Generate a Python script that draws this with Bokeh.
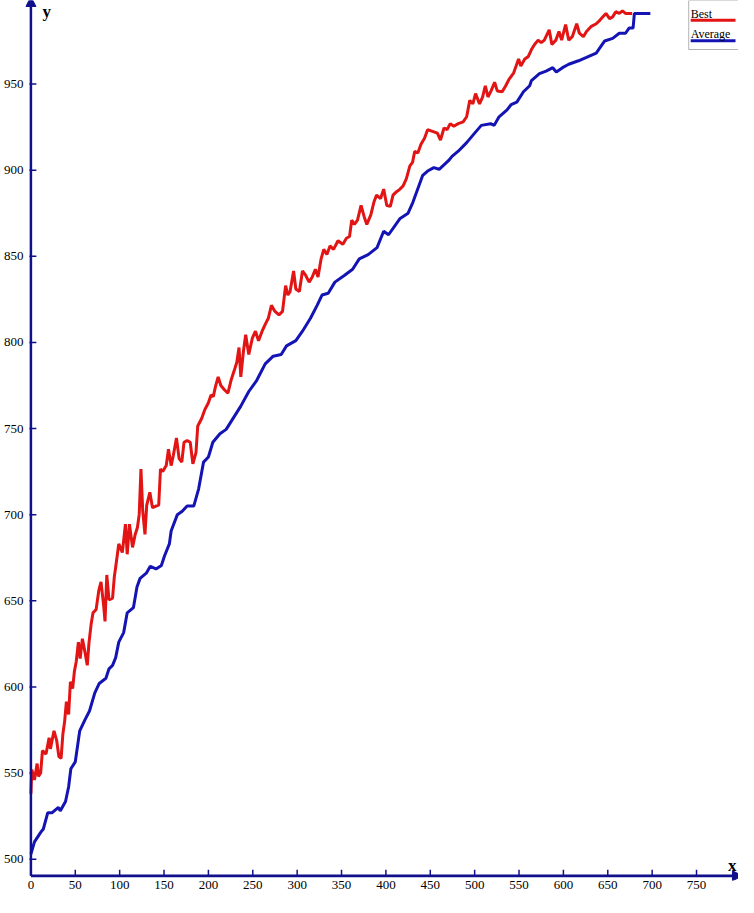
from bokeh.plotting import figure
from bokeh.models import Range1d, FixedTicker, Arrow, NormalHead, Label, BoxAnnotation
from bokeh.embed import file_html
from bokeh.resources import INLINE

# ---- data ----
best_x = [0, 1, 4, 7, 8.5, 11, 13, 17, 20.5, 22, 26, 29, 31.5, 34, 36, 38, 40, 42.5, 44.5, 47,
          49, 51, 53.5, 55.5, 58, 61, 63.5, 65.5, 68, 70, 73.5, 76.5, 79, 82, 83.5, 85.5, 88, 92,
          94, 95.5, 99, 103, 106.5, 108.5, 111, 114.5, 117.5, 120, 122, 124, 126, 128.5, 130.5,
          134, 137, 141, 144, 146, 148.5, 152.5, 155, 158, 160.5, 164, 167, 170, 172.5, 176,
          179.5, 182.5, 186, 188, 192.5, 196, 200, 203, 205.5, 208, 211, 214, 218, 222, 225.5,
          229, 232, 234.5, 236.5, 239.5, 242, 245.5, 249.5, 253, 256.5, 260.5, 264, 267.5, 271,
          275, 279.5, 283.5, 287, 289.5, 292, 296, 298.5, 302.5, 306, 309.5, 313.5, 317, 320.5,
          323.5, 327, 330, 333.5, 337, 341, 346, 351.5, 355.5, 359, 361.5, 364.5, 368, 372,
          375.5, 378.5, 383, 386.5, 389.5, 394, 397.5, 401, 405, 408, 412, 416, 419.5, 423, 427,
          430, 432.5, 436, 439.5, 443.5, 447, 452.5, 458, 461.5, 465.5, 469, 472.5, 476.5, 481.5,
          487, 491, 494.5, 498, 501, 505.5, 509, 512, 515, 518.5, 522.5, 525.5, 531, 535, 538.5,
          544, 546, 549.5, 552, 556.5, 560.5, 564, 567.5, 571.5, 575, 578.5, 584, 587, 591.5,
          595, 598, 602.5, 606, 610, 615, 618, 622.5, 626, 631.5, 637, 641, 644.5, 648, 652,
          655.5, 659, 663, 666.5, 670, 677.5]
best_y = [538, 552, 546, 555.5, 548, 550, 563, 561, 570.5, 564, 574.5, 569, 559.5, 558.5, 572.5,
          580, 591.5, 584, 603, 599, 609, 614.5, 626, 616.5, 628, 620, 612.5, 626, 637, 643, 645,
          656, 661, 647, 638, 665, 650.5, 651.5, 664, 669.5, 683, 678, 694.5, 677, 694.5, 681,
          688.5, 692.5, 700, 726.5, 702, 688.5, 705.5, 713, 704, 705, 705.5, 726.5, 725, 728.5,
          738, 728.5, 734.5, 744.5, 732.5, 730.5, 742, 743, 742, 729.5, 736, 751.5, 756, 761,
          765, 769.5, 768.5, 774.5, 780, 775, 772.5, 770.5, 778, 783.5, 788.5, 797, 780, 795,
          804.5, 793, 802.5, 806.5, 801, 806.5, 810.5, 814, 821.5, 818, 816, 818, 833, 827.5,
          829.5, 841.5, 831, 829.5, 841.5, 839, 835, 838, 842.5, 838, 848.5, 854, 851, 856, 854,
          859, 857, 860.5, 861.5, 871, 868.5, 871, 879.5, 873, 868.5, 874, 881.5, 885.5, 883.5,
          889, 879.5, 879, 885.5, 887.5, 889, 891, 895, 902.5, 904.5, 911, 910, 915, 918.5,
          923.5, 922.5, 921.5, 917.5, 924.5, 923.5, 927, 925.5, 927, 928, 931, 940.5, 938.5,
          944.5, 938.5, 942.5, 949, 942.5, 946, 951, 946, 945.5, 949, 952.5, 956.5, 959.5,
          964.5, 960.5, 964.5, 966, 970, 973, 975.5, 974, 975.5, 981.5, 973, 975.5, 980.5,
          975.5, 984.5, 975.5, 977.5, 985, 979.5, 977.5, 980.5, 983.5, 985, 987, 989, 991, 988,
          989, 992, 991, 992.5, 991, 991]

avg_x = [0, 4, 11, 14, 19, 24, 31, 33, 39, 42.5, 45, 50, 55, 61, 66, 72, 77, 84.5, 88, 92, 95.5,
         99, 101, 104.5, 108.5, 115.5, 119.5, 123, 130, 134.5, 141, 147, 150.5, 156, 158, 165,
         170.5, 176, 183.5, 189, 194.5, 200, 205, 213, 220, 225.5, 236.5, 245.5, 254.5, 264,
         273, 282, 288, 298.5, 306, 315, 322.5, 328, 335, 342.5, 353.5, 362.5, 370, 380, 390,
         397.5, 403, 416, 425, 430.5, 441.5, 447, 454, 460, 470.5, 474.5, 481.5, 491, 500,
         507.5, 518, 522, 527.5, 536.5, 541, 547.5, 555, 562, 564, 573, 580.5, 588, 592, 599,
         606, 617, 626, 637, 646.5, 655.5, 663, 670, 674, 678.5, 680, 698]
avg_y = [503, 510, 515.5, 517.5, 527, 527, 530, 528, 533.5, 542, 552.5, 556.5, 574.5, 581, 586,
         596.5, 602, 605, 610.5, 612.5, 617, 626, 628, 631.5, 643, 646, 658, 663, 666, 670,
         668.5, 670.5, 676, 683, 690.5, 700, 702, 705, 705, 715, 730.5, 733.5, 742, 747, 749.5,
         754, 763, 771.5, 778, 787.5, 792, 793, 798, 801, 806.5, 814, 821.5, 827.5, 828.5, 835,
         839, 842.5, 848.5, 851, 855, 864.5, 862.5, 872, 875, 881.5, 897, 899.5, 901.5, 900.5,
         905.5, 908, 911, 916, 921.5, 926, 927, 926, 931, 935, 938, 939.5, 945.5, 949, 952, 956,
         957.5, 959.5, 957, 959.5, 961.5, 963.5, 965.5, 968, 975, 976.5, 979.5, 979.5, 982.5,
         982.5, 991, 991]

x_ticks = list(range(0, 800, 50))
y_ticks = list(range(500, 1000, 50))
series_names = ["Best", "Average"]

# ---- styling / layout ----
NAVY = "#10108c"
RED = "#e21414"
BLUE = "#1414b4"
FONT = "Liberation Serif"

W, H = 738, 897
BL, BB = 22, 17                 # left / bottom panel for tick labels
FW, FH = W - BL, H - BB         # frame size in px
X0, X1 = -6.1, 797.3            # data range across the frame
Y0, Y1 = 487.6, 998.5
XAX, YAX = 0.0, 490.3           # where the drawn axis lines sit
sx = FW / (X1 - X0)
sy = FH / (Y1 - Y0)


def xd(fx):
    """figure pixel x -> data x"""
    return X0 + (fx - BL) / sx


def yd(fy):
    """figure pixel y (from top) -> data y"""
    return Y1 - fy / sy


p = figure(width=W, height=H, x_range=Range1d(X0, X1), y_range=Range1d(Y0, Y1),
           output_backend="svg", toolbar_location=None,
           min_border_left=BL, min_border_bottom=BB, min_border_top=0, min_border_right=0)
p.outline_line_color = None
p.grid.visible = False
p.background_fill_color = "white"
p.border_fill_color = "white"

p.xaxis.ticker = FixedTicker(ticks=x_ticks)
p.yaxis.ticker = FixedTicker(ticks=y_ticks)
for ax in (p.xaxis[0], p.yaxis[0]):
    ax.axis_line_color = None
    ax.major_tick_line_color = None
    ax.major_tick_in = 0
    ax.major_tick_out = 0
    ax.minor_tick_line_color = None
    ax.major_label_text_font = FONT
    ax.major_label_text_font_size = "13px"
    ax.major_label_text_color = "black"
p.xaxis[0].major_label_standoff = 0
p.yaxis[0].major_label_standoff = 2

# tick marks on the drawn axes
p.segment(x0=x_ticks, y0=[YAX] * len(x_ticks), x1=x_ticks, y1=[YAX + 6 / sy] * len(x_ticks),
          line_color=NAVY, line_width=1.5)
p.segment(x0=[XAX - 1.5 / sx] * len(y_ticks), y0=y_ticks, x1=[XAX + 5.5 / sx] * len(y_ticks),
          y1=y_ticks, line_color=NAVY, line_width=1.5)

# axis lines with arrow heads
p.add_layout(Arrow(x_start=XAX, y_start=YAX, x_end=XAX, y_end=Y1 + 4 / sy,
                   line_color=NAVY, line_width=2.5,
                   end=NormalHead(size=10, fill_color=NAVY, line_color=NAVY, line_width=1)))
p.add_layout(Arrow(x_start=XAX, y_start=YAX, x_end=X1 + 4 / sx, y_end=YAX,
                   line_color=NAVY, line_width=2.8,
                   end=NormalHead(size=10, fill_color=NAVY, line_color=NAVY, line_width=1)))

# legend box (under the legend lines)
box = BoxAnnotation(left=xd(688), right=X1, top=Y1, bottom=yd(49),
                    fill_color="white", fill_alpha=1.0, line_color="black", line_width=1,
                    level="underlay")
p.add_layout(box)

p.line(avg_x, avg_y, line_color=BLUE, line_width=3)
p.line(best_x, best_y, line_color=RED, line_width=3)

# legend entries
p.line([xd(690), xd(735)], [yd(19.7), yd(19.7)], line_color=RED, line_width=3)
p.line([xd(690), xd(735)], [yd(40.3), yd(40.3)], line_color=BLUE, line_width=3)
p.add_layout(Label(x=xd(690), y=yd(13), text=series_names[0], text_font=FONT,
                   text_font_size="12px", text_color="black", text_baseline="alphabetic"))
p.add_layout(Label(x=xd(690), y=yd(33), text=series_names[1], text_font=FONT,
                   text_font_size="12px", text_color="black", text_baseline="alphabetic"))

# axis names
p.add_layout(Label(x=xd(39), y=yd(11.1), text="y", text_font=FONT,
                   text_font_style="bold", text_font_size="17px", text_color="black",
                   text_baseline="alphabetic"))
p.add_layout(Label(x=xd(736), y=yd(865.3), text="x", text_font=FONT,
                   text_font_style="bold", text_font_size="17px", text_color="black",
                   text_align="right", text_baseline="alphabetic"))

open("out.html", "w").write(file_html(p, INLINE))
